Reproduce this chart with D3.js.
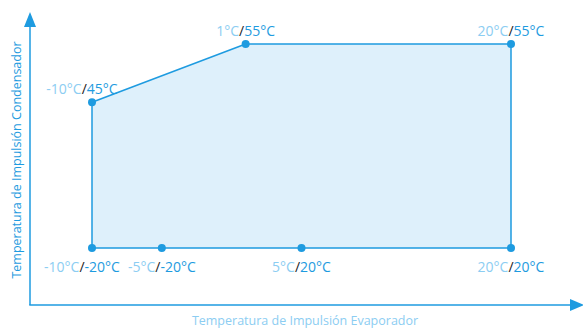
<!DOCTYPE html>
<html>
<head>
<meta charset="utf-8">
<script src="https://cdn.jsdelivr.net/npm/d3@7"></script>
<style>
  html, body { margin: 0; padding: 0; background: #fff; }
  svg { display: block; font-family: "Open Sans", sans-serif; }
</style>
</head>
<body>
<svg id="chart" width="583" height="328"></svg>
<script>
// ---- data ----
const evaporatorTemps = [-10, -5, 5, 20, 20, 1, -10];          // °C (x)
const condenserTemps  = [20, 20, 20, 20, 55, 55, 45];          // °C (y, plot position)
const evapLabels = ["-10°C", "-5°C", "5°C", "20°C", "20°C", "1°C", "-10°C"];
const condLabels = ["-20°C", "-20°C", "20°C", "20°C", "55°C", "55°C", "45°C"];
const xAxisTitle = "Temperatura de Impulsión Evaporador";
const yAxisTitle = "Temperatura de Impulsión Condensador";

const points = evaporatorTemps.map((e, i) => ({
  e, c: condenserTemps[i], el: evapLabels[i], cl: condLabels[i]
}));

// ---- styles ----
const BLUE = "#1e9be0";
const LIGHT = "#8ccdf2";
const FILL = "#def0fb";
const DARK = "#222";

const svg = d3.select("#chart");

const x = d3.scaleLinear().domain([-10, 20]).range([92, 511]);
const y = d3.scaleLinear().domain([20, 55]).range([248, 44]);

// axes (schematic, no ticks)
const ax0 = 30, ay0 = 305;
svg.append("line").attr("x1", ax0).attr("y1", ay0).attr("x2", ax0).attr("y2", 26)
  .attr("stroke", BLUE).attr("stroke-width", 1.5);
svg.append("path").attr("d", d3.line()([[ax0 - 6, 27], [ax0, 12], [ax0 + 6, 27]]) + "Z")
  .attr("fill", BLUE);
svg.append("line").attr("x1", ax0 - 0.75).attr("y1", ay0).attr("x2", 572).attr("y2", ay0)
  .attr("stroke", BLUE).attr("stroke-width", 1.5);
svg.append("path").attr("d", d3.line()([[570, ay0 - 6], [584, ay0], [570, ay0 + 6]]) + "Z")
  .attr("fill", BLUE);

// axis titles
svg.append("text")
  .attr("x", 305).attr("y", 325)
  .attr("text-anchor", "middle")
  .attr("font-size", 12.5)
  .attr("fill", LIGHT)
  .text(xAxisTitle);

svg.append("text")
  .attr("transform", "translate(21,160) rotate(-90)")
  .attr("text-anchor", "middle")
  .attr("font-size", 12.5)
  .attr("fill", BLUE)
  .text(yAxisTitle);

// polygon
const line = d3.line().x(d => x(d.e)).y(d => y(d.c));
svg.append("path")
  .datum(points)
  .attr("d", line(points) + "Z")
  .attr("fill", FILL)
  .attr("stroke", BLUE)
  .attr("stroke-width", 1.5)
  .attr("stroke-linejoin", "round");

// markers
svg.selectAll("circle.pt")
  .data(points)
  .join("circle")
  .attr("class", "pt")
  .attr("cx", d => x(d.e))
  .attr("cy", d => y(d.c))
  .attr("r", 4)
  .attr("fill", BLUE);

// labels
const xMin = d3.min(evaporatorTemps);
const yMin = d3.min(condenserTemps);
const lbl = svg.selectAll("text.pl")
  .data(points)
  .join("text")
  .attr("class", "pl")
  .attr("x", d => x(d.e) + (d.e === xMin ? -10 : 0))
  .attr("y", d => d.c === yMin ? y(d.c) + 24 : y(d.c) - 8)
  .attr("text-anchor", "middle")
  .attr("font-size", 14);
lbl.append("tspan").attr("fill", LIGHT).text(d => d.el);
lbl.append("tspan").attr("fill", DARK).text("/");
lbl.append("tspan").attr("fill", BLUE).text(d => d.cl);
</script>
</body>
</html>
